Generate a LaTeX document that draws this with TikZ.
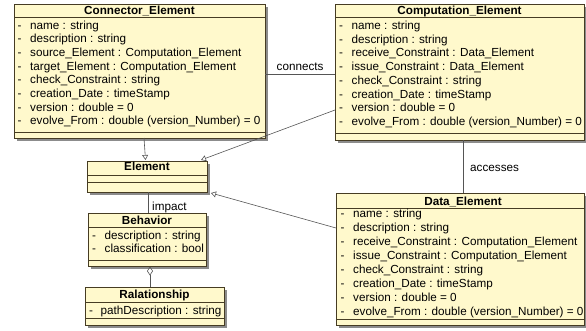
\documentclass[tikz,border=0pt]{standalone}
\usepackage{fontspec}
\setmainfont{Liberation Sans}
\usetikzlibrary{arrows.meta,shadows}

\definecolor{classfill}{RGB}{255,249,204}
\definecolor{classline}{RGB}{70,60,35}
\definecolor{linkline}{RGB}{85,85,85}

\tikzset{
  classbox/.style={draw=classline, line width=0.8pt, fill=classfill, inner sep=0pt,
    drop shadow={shadow xshift=2.5pt, shadow yshift=-2.5pt, fill=black, opacity=0.45}},
  sepline/.style={draw=classline, line width=0.7pt},
  titletext/.style={font=\fontsize{11.7}{14}\selectfont\bfseries, inner sep=0pt, anchor=base},
  attrtext/.style={font=\fontsize{11.7}{14}\selectfont, inner sep=0pt, anchor=base west},
  link/.style={draw=linkline, line width=0.6pt},
  generalization/.style={link, -{Triangle[open, width=6pt, length=5pt]}},
  aggregation/.style={link, {Diamond[open, width=6pt, length=9pt]}-},
  linklabel/.style={font=\fontsize{11.7}{14}\selectfont, inner sep=0pt, anchor=base west}
}

% attribute rows: prefix, dash x, text x, first baseline, row spacing, list
\newcommand\classattrs[6]{%
  \foreach \t [count=\i] in {#6} {
    \node[attrtext] (#1-d\i) at (#2, {#4+(\i-1)*#5}) {-};
    \node[attrtext] (#1-a\i) at (#3, {#4+(\i-1)*#5}) {\t};
  }%
}

\begin{document}
\begin{tikzpicture}[x=1pt, y=-1pt]
\useasboundingbox (0,0) rectangle (586,330);

% ---------- Connector_Element ----------
\node[classbox, anchor=north west, minimum width=251pt, minimum height=134pt] (ce) at (14,4) {};
\draw[sepline] (14,17.5) -- (265,17.5);
\draw[sepline] (14,132) -- (265,132);
\node[titletext] (ce-t) at (139.5,14.8) {Connector\_Element};
\classattrs{ce}{17.5}{30}{29}{13.7}{
  {name : string},
  {description : string},
  {source\_Element : Computation\_Element},
  {target\_Element : Computation\_Element},
  {check\_Constraint : string},
  {creation\_Date : timeStamp},
  {version : double = 0},
  {evolve\_From : double (version\_Number) = 0}}

% ---------- Computation_Element ----------
\node[classbox, anchor=north west, minimum width=249pt, minimum height=136pt] (co) at (335,4) {};
\draw[sepline] (335,17.5) -- (584,17.5);
\draw[sepline] (335,133) -- (584,133);
\node[titletext] (co-t) at (459.5,14.8) {Computation\_Element};
\classattrs{co}{339}{351.5}{29.3}{13.75}{
  {name : string},
  {description : string},
  {receive\_Constraint : Data\_Element},
  {issue\_Constraint : Data\_Element},
  {check\_Constraint : string},
  {creation\_Date : timeStamp},
  {version : double = 0},
  {evolve\_From : double (version\_Number) = 0}}

% ---------- Data_Element ----------
\node[classbox, anchor=north west, minimum width=248pt, minimum height=132pt] (de) at (336,193) {};
\draw[sepline] (336,208.3) -- (584,208.3);
\draw[sepline] (336,319.3) -- (584,319.3);
\node[titletext] (de-t) at (463,205) {Data\_Element};
\classattrs{de}{340.5}{353}{217.8}{13.95}{
  {name : string},
  {description : string},
  {receive\_Constraint : Computation\_Element},
  {issue\_Constraint : Computation\_Element},
  {check\_Constraint : string},
  {creation\_Date : timeStamp},
  {version : double = 0},
  {evolve\_From : double (version\_Number) = 0}}

% ---------- Element ----------
\node[classbox, anchor=north west, minimum width=120pt, minimum height=31pt] (el) at (87,161) {};
\draw[sepline] (87,175) -- (207,175);
\draw[sepline] (87,182.3) -- (207,182.3);
\node[titletext] (el-t) at (147,170.5) {Element};

% ---------- Behavior ----------
\node[classbox, anchor=north west, minimum width=118pt, minimum height=53pt] (be) at (88,213) {};
\draw[sepline] (88,227) -- (206,227);
\draw[sepline] (88,260.7) -- (206,260.7);
\node[titletext] (be-t) at (147,224.3) {Behavior};
\classattrs{be}{92}{104.5}{239.5}{13.4}{
  {description : string},
  {classification : bool}}

% ---------- Ralationship ----------
\node[classbox, anchor=north west, minimum width=139pt, minimum height=38pt] (ra) at (85,287) {};
\draw[sepline] (85,302) -- (224,302);
\draw[sepline] (85,318.5) -- (224,318.5);
\node[titletext] (ra-t) at (154.5,298.5) {Ralationship};
\classattrs{ra}{89}{100.5}{314}{13.4}{
  {pathDescription : string}}

% ---------- connectors ----------
\coordinate (ce-gen) at (144,138);
\coordinate (el-gen1) at (145.5,160);
\draw[generalization] (ce-gen) -- (el-gen1);

\coordinate (co-gen) at (335,110);
\coordinate (el-gen2) at (201,160);
\draw[generalization] (co-gen) -- (el-gen2);

\coordinate (de-gen) at (336,228);
\coordinate (el-gen3) at (211,193);
\draw[generalization] (de-gen) -- (el-gen3);

\coordinate (ce-con) at (265,74.5);
\coordinate (co-con) at (335,74.5);
\draw[link] (ce-con) -- (co-con);
\node[linklabel] (connects) at (276.5,70) {connects};

\coordinate (co-acc) at (463,140);
\coordinate (de-acc) at (463,193);
\draw[link] (co-acc) -- (de-acc);
\node[linklabel] (accesses) at (470,171.5) {accesses};

\coordinate (el-imp) at (148.5,192);
\coordinate (be-imp) at (148.5,213);
\draw[link] (el-imp) -- (be-imp);
\node[linklabel] (impact) at (152,210) {impact};

\coordinate (be-agg) at (150,266.5);
\coordinate (ra-agg) at (150,287);
\draw[aggregation] (be-agg) -- (ra-agg);

\end{tikzpicture}
\end{document}
